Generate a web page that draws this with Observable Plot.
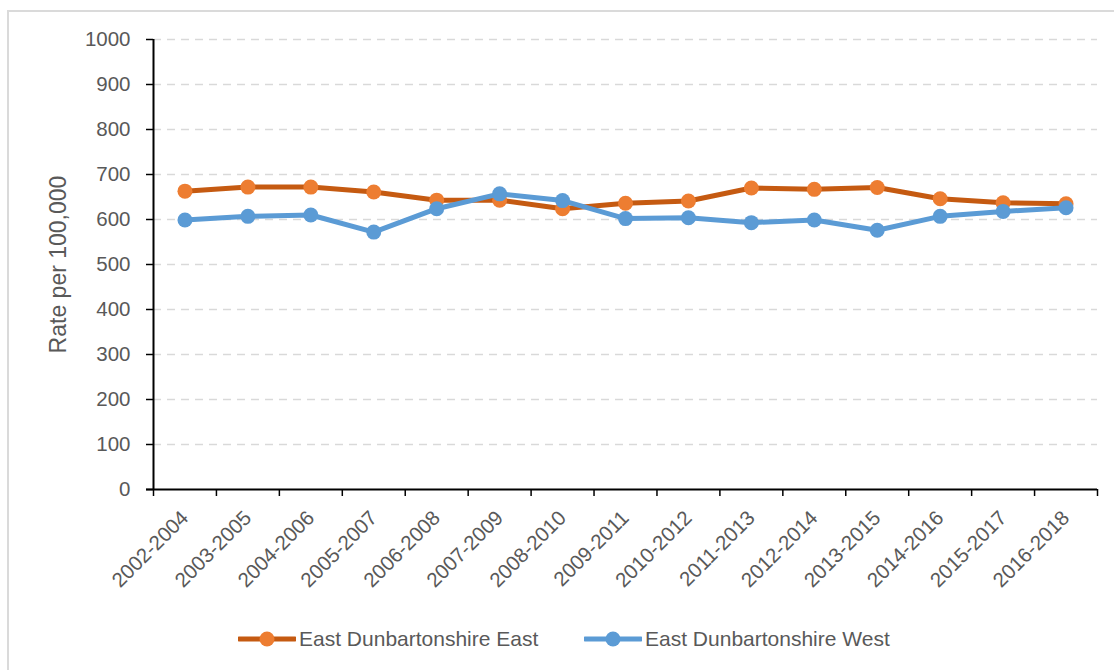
<!DOCTYPE html>
<html>
<head>
<meta charset="utf-8">
<script src="https://cdn.jsdelivr.net/npm/d3@7"></script>
<script src="https://cdn.jsdelivr.net/npm/@observablehq/plot@0.6"></script>
<style>
  html, body { margin: 0; padding: 0; background: #fff; overflow: hidden; width: 1114px; height: 670px; }
  body { font-family: "Liberation Sans", Arial, sans-serif; position: relative; }
  #frame { position: absolute; left: 7px; top: 10px; width: 1130px; height: 700px; border: 2px solid #dadada; box-sizing: border-box; }
  #chart { position: absolute; left: 0; top: 0; }
  #chart svg text { fill: #595959; font-size: 20.5px; }
  #chart svg g[aria-label="y-axis tick label"] text { font-size: 20.5px; }
  #chart svg g[aria-label="y-axis label"] text { font-size: 23px; }
  #legend { position: absolute; left: 0; top: 626px; height: 26px; width: 1114px; font-size: 21px; color: #595959; }
  .item { display: flex; align-items: center; position: absolute; top: 0; height: 26px; }
  .item svg { margin-right: 3px; }
</style>
</head>
<body>
<div id="frame"></div>
<div id="chart"></div>
<div id="legend"></div>
<script>
const categories = ["2002-2004","2003-2005","2004-2006","2005-2007","2006-2008","2007-2009","2008-2010","2009-2011","2010-2012","2011-2013","2012-2014","2013-2015","2014-2016","2015-2017","2016-2018"];
const eastValues = [663, 672, 672, 661, 643, 643, 624, 636, 641, 670, 667, 671, 646, 637, 635];
const westValues = [599, 607, 610, 572, 624, 657, 642, 602, 604, 593, 599, 576, 607, 618, 626];
const yTicks = [0, 100, 200, 300, 400, 500, 600, 700, 800, 900, 1000];
const seriesNames = ["East Dunbartonshire East", "East Dunbartonshire West"];
const lineColors = ["#C55A11", "#5B9BD5"];
const markerColors = ["#ED7D31", "#5B9BD5"];

const east = categories.map((c, i) => ({cat: c, value: eastValues[i]}));
const west = categories.map((c, i) => ({cat: c, value: westValues[i]}));

const width = 1114, height = 610;
const marginLeft = 153, marginRight = 17, marginTop = 39, marginBottom = 121;
const step = (width - marginLeft - marginRight) / categories.length;

const plot = Plot.plot({
  width, height, marginLeft, marginRight, marginTop, marginBottom,
  style: {fontFamily: '"Liberation Sans", Arial, sans-serif', background: "transparent", overflow: "visible"},
  x: {type: "point", domain: categories, padding: 0.5, inset: 0, round: false},
  y: {domain: [0, 1000]},
  marks: [
    Plot.ruleY(yTicks.filter(d => d > 0), {stroke: "#d9d9d9", strokeWidth: 1.5, strokeDasharray: "8,6"}),
    Plot.axisY({ticks: yTicks, tickFormat: d => String(d), tickSize: 7, tickPadding: 16, stroke: "#000", strokeWidth: 1.5,
      label: "Rate per 100,000", labelAnchor: "center", labelArrow: "none", labelOffset: 104}),
    Plot.axisX({tickSize: 0, tickPadding: 25, tickRotate: -45, label: null}),
    // x boundary ticks
    Plot.ruleX(categories, {x: d => d, y1: 0, y2: 0, dx: -step / 2, insetBottom: -7, stroke: "#000", strokeWidth: 1.5}),
    Plot.ruleX([categories[categories.length - 1]], {x: d => d, y1: 0, y2: 0, dx: step / 2, insetBottom: -7, stroke: "#000", strokeWidth: 1.5}),
    // axis lines
    Plot.ruleY([0], {stroke: "#000", strokeWidth: 2, insetLeft: -7}),
    Plot.ruleX([categories[0]], {x: d => d, y1: 0, y2: 1000, dx: -step / 2, stroke: "#000", strokeWidth: 2}),
    // series
    Plot.line(east, {x: "cat", y: "value", stroke: lineColors[0], strokeWidth: 5, curve: "linear"}),
    Plot.dot(east, {x: "cat", y: "value", r: 7.5, fill: markerColors[0], stroke: "none"}),
    Plot.line(west, {x: "cat", y: "value", stroke: lineColors[1], strokeWidth: 5, curve: "linear"}),
    Plot.dot(west, {x: "cat", y: "value", r: 7.5, fill: markerColors[1], stroke: "none"})
  ]
});
document.getElementById("chart").appendChild(plot);

// legend
const legend = document.getElementById("legend");
const lefts = [238, 584];
seriesNames.forEach((name, i) => {
  const item = document.createElement("div");
  item.className = "item";
  item.style.left = lefts[i] + "px";
  const w = 58;
  item.innerHTML = `<svg width="${w}" height="18"><line x1="1" y1="9" x2="${w-1}" y2="9" stroke="${lineColors[i]}" stroke-width="5" stroke-linecap="round"/><circle cx="${w/2}" cy="9" r="7.5" fill="${markerColors[i]}"/></svg><span>${name}</span>`;
  legend.appendChild(item);
});
</script>
</body>
</html>
